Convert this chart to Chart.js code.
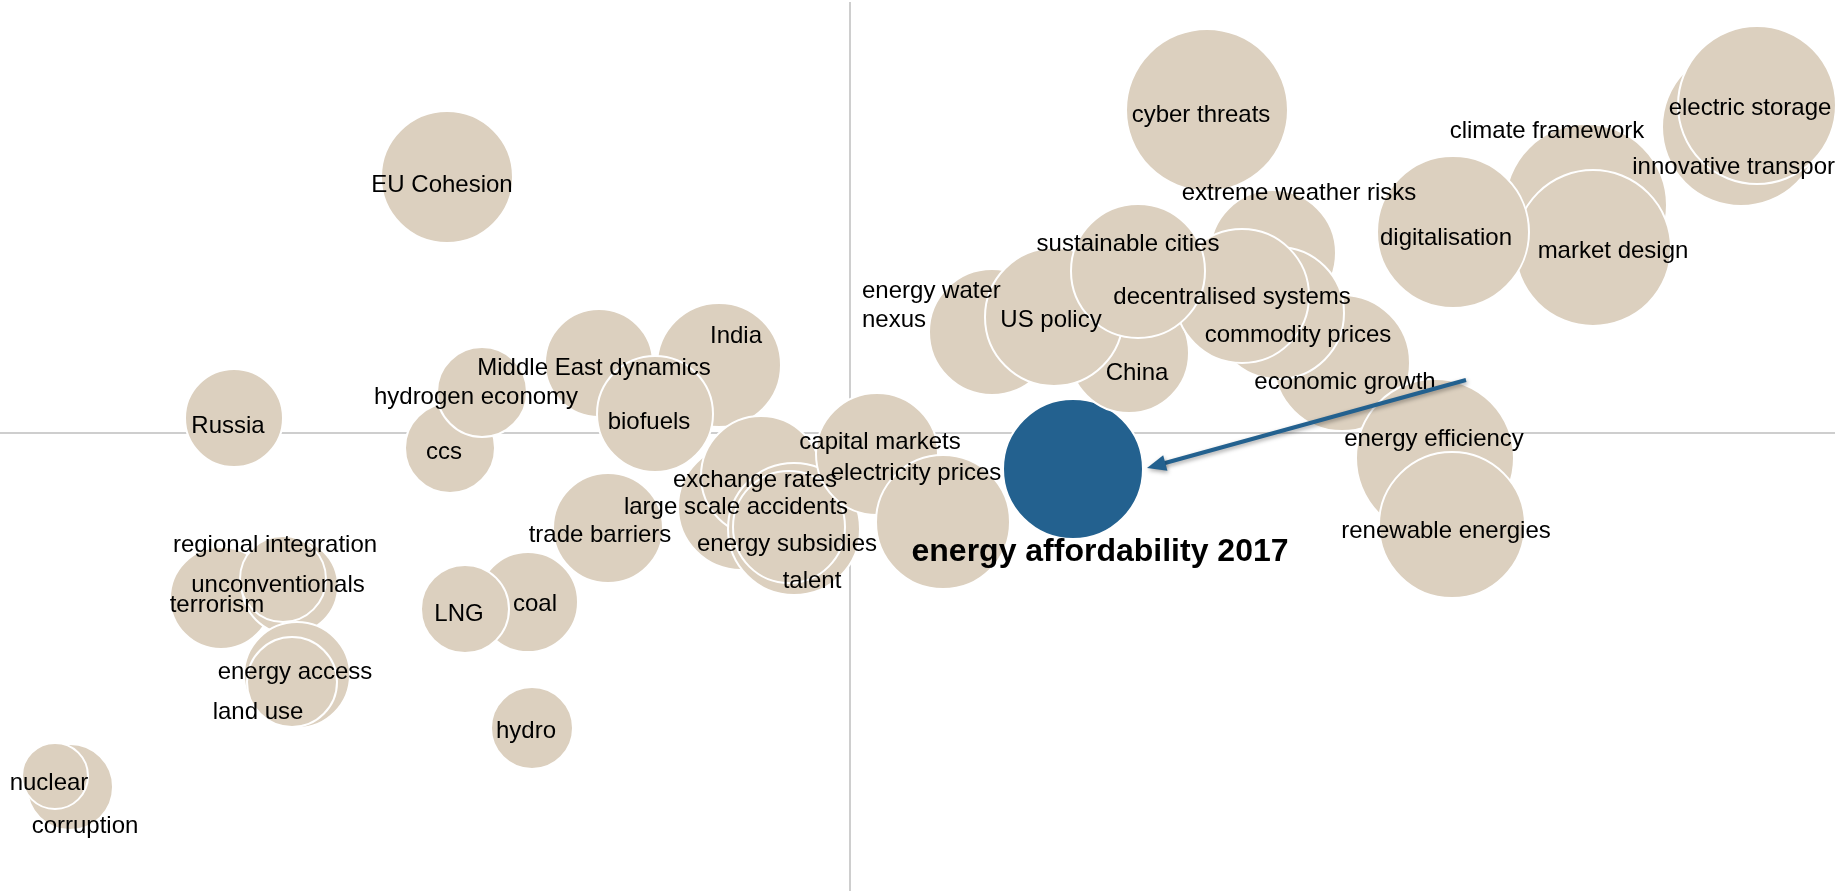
<!DOCTYPE html>
<html>
<head>
<meta charset="utf-8">
<script src="https://cdn.jsdelivr.net/npm/chart.js@4/dist/chart.umd.min.js"></script>
<style>
  html, body { margin: 0; padding: 0; background: #fff; overflow: hidden; }
  #wrap { width: 1835px; height: 894px; }
</style>
</head>
<body>
<div id="wrap"><canvas id="issues" width="1835" height="894"></canvas></div>
<script>
// issue names, in drawing order (later ones sit on top)
const topics = [
  'EU Cohesion', 'Russia', 'ccs', 'hydrogen economy', 'Middle East dynamics', 'India', 'biofuels',
  'trade barriers', 'large scale accidents', 'exchange rates', 'energy subsidies', 'talent',
  'capital markets', 'electricity prices', 'terrorism', 'unconventionals', 'regional integration',
  'energy access', 'land use', 'coal', 'LNG', 'hydro', 'corruption', 'nuclear',
  ['energy water', 'nexus'], 'China', 'US policy', 'extreme weather risks', 'economic growth',
  'commodity prices', 'decentralised systems', 'sustainable cities', 'cyber threats',
  'energy efficiency', 'renewable energies', 'climate framework', 'market design', 'digitalisation',
  'innovative transport', 'electric storage'
]

// horizontal position
const uncertainty = [
  -4.03, -6.16, -4.00, -3.68, -2.51, -1.31, -1.95,
  -2.42, -1.09, -0.89, -0.56, -0.61,
  0.27, 0.93, -6.29, -5.60, -5.67,
  -5.53, -5.58, -3.22, -3.85, -3.18, -7.80, -7.95,
  1.42, 2.79, 2.04, 4.23, 4.92,
  4.28, 3.92, 2.88, 3.57,
  5.85, 6.02, 7.36, 7.43, 6.03,
  8.91, 9.07
]

// vertical position
const impact = [
  2.56, 0.15, -0.15, 0.41, 0.70, 0.68, 0.19,
  -0.95, -0.74, -0.43, -0.96, -0.94,
  -0.21, -0.89, -1.65, -1.53, -1.46,
  -2.42, -2.49, -1.69, -1.76, -2.95, -3.54, -3.43,
  1.01, 0.80, 1.16, 1.80, 0.70,
  1.20, 1.37, 1.62, 3.23,
  -0.25, -0.92, 2.28, 1.85, 2.01,
  3.06, 3.28
]

// bubble radius
const urgency = [
  66, 49, 45, 45, 54, 62, 58,
  55, 63, 60, 66, 56,
  61, 67, 51, 48, 43,
  53, 45, 50, 44, 41, 43, 33,
  63, 60, 69, 63, 68,
  66, 67, 67, 81,
  79, 73, 81, 78, 76,
  79, 79
]

// the highlighted issue and where it came from
const focusTopic = 'energy affordability 2017'
const focusPoint = { x: 2.23, y: -0.36, r: 70 }
const arrowTail = { x: 6.16, y: 0.53 }
const arrowHead = { x: 2.97, y: -0.35 }

// label placement relative to the bubble centre, in px
const labelNudge = [
  [-5, 8], [-6, 8], [-6, 4], [-6, 5], [-5, 5], [17, -29], [-6, 8],
  [-8, 7], [-5, 0], [-6, 4], [-7, 15], [23, 54],
  [3, -12], [-27, -49], [-4, 7], [-12, -1], [-8, -34],
  [-2, -3], [-34, 30], [7, 2], [-6, 5], [-6, 3], [15, 39], [-6, 7],
  [-130, -41], [8, 20], [-3, 3], [26, -60], [3, 19],
  [20, 22], [-10, 1], [-10, -27], [-6, 5],
  [-1, -19], [-6, 6], [-39, -74], [20, 3], [-7, 6],
  [-4, 40], [-7, 3]
]
const focusNudge = [27, 83]

const FONT = '"Liberation Sans", Arial, sans-serif'
const BEIGE = '#DCD0BF'
const BLUE = '#23618F'

const quadrantLines = {
  id: 'quadrantLines',
  beforeDatasetsDraw(chart) {
    const { ctx, chartArea, scales } = chart
    const x0 = scales.x.getPixelForValue(0)
    const y0 = scales.y.getPixelForValue(0)
    ctx.save()
    ctx.strokeStyle = '#BFBFBF'
    ctx.lineWidth = 1.5
    ctx.beginPath()
    ctx.moveTo(x0, chartArea.top + 2)
    ctx.lineTo(x0, chartArea.bottom - 3)
    ctx.moveTo(chartArea.left, y0)
    ctx.lineTo(chartArea.right, y0)
    ctx.stroke()
    ctx.restore()
  }
}

const bubbleLabels = {
  id: 'bubbleLabels',
  afterDatasetsDraw(chart) {
    const { ctx, scales } = chart
    ctx.save()
    ctx.fillStyle = '#000'
    ctx.font = '24px ' + FONT
    ctx.textBaseline = 'middle'
    chart.getDatasetMeta(0).data.forEach((el, i) => {
      const [dx, dy] = labelNudge[i]
      const text = topics[i]
      if (Array.isArray(text)) {
        ctx.textAlign = 'left'
        text.forEach((line, k) => ctx.fillText(line, el.x + dx, el.y + dy + k * 29))
      } else {
        ctx.textAlign = 'center'
        ctx.fillText(text, el.x + dx, el.y + dy)
      }
    })
    const blue = chart.getDatasetMeta(1).data[0]
    ctx.font = 'bold 32px ' + FONT
    ctx.textAlign = 'center'
    ctx.fillText(focusTopic, blue.x + focusNudge[0], blue.y + focusNudge[1])

    // arrow from previous position
    const tx = scales.x.getPixelForValue(arrowTail.x)
    const ty = scales.y.getPixelForValue(arrowTail.y)
    const hx = scales.x.getPixelForValue(arrowHead.x)
    const hy = scales.y.getPixelForValue(arrowHead.y)
    const len = Math.hypot(hx - tx, hy - ty)
    const ux = (hx - tx) / len, uy = (hy - ty) / len
    ctx.shadowColor = 'rgba(0,0,0,0.35)'
    ctx.shadowBlur = 4
    ctx.shadowOffsetX = 1
    ctx.shadowOffsetY = 2
    ctx.strokeStyle = BLUE
    ctx.fillStyle = BLUE
    ctx.lineWidth = 4
    ctx.beginPath()
    ctx.moveTo(tx, ty)
    ctx.lineTo(hx - ux * 14, hy - uy * 14)
    ctx.stroke()
    ctx.beginPath()
    ctx.moveTo(hx, hy)
    ctx.lineTo(hx - ux * 19 - uy * 8, hy - uy * 19 + ux * 8)
    ctx.lineTo(hx - ux * 19 + uy * 8, hy - uy * 19 - ux * 8)
    ctx.closePath()
    ctx.fill()
    ctx.restore()
  }
}

const points = topics.map((t, i) => ({ x: uncertainty[i], y: impact[i], r: urgency[i] }))

new Chart(document.getElementById('issues'), {
  type: 'bubble',
  data: {
    datasets: [
      {
        label: 'issues',
        data: points,
        backgroundColor: BEIGE,
        borderColor: '#ffffff',
        borderWidth: 2
      },
      {
        label: focusTopic,
        data: [focusPoint],
        backgroundColor: BLUE,
        borderColor: '#ffffff',
        borderWidth: 2
      }
    ]
  },
  options: {
    responsive: false,
    animation: false,
    events: [],
    layout: { padding: 0, autoPadding: false },
    plugins: {
      legend: { display: false },
      tooltip: { enabled: false }
    },
    scales: {
      x: { type: 'linear', display: false, min: -8.5, max: 9.85 },
      y: { type: 'linear', display: false, min: -4.61, max: 4.33 }
    }
  },
  plugins: [quadrantLines, bubbleLabels]
})
</script>
</body>
</html>
